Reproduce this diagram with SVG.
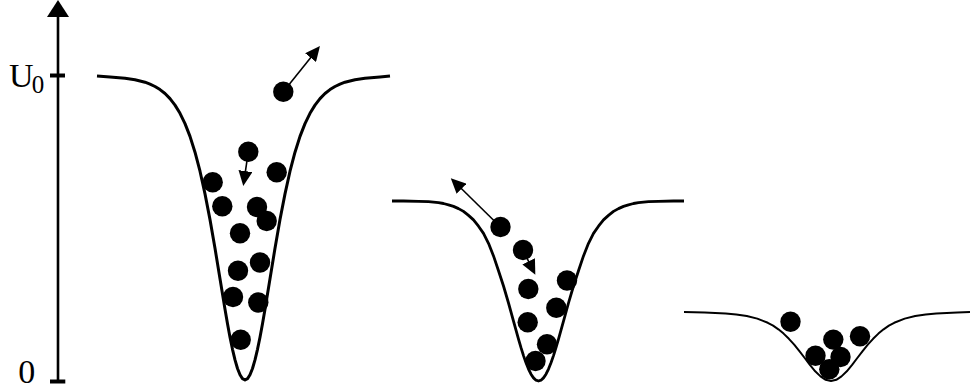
<svg xmlns="http://www.w3.org/2000/svg" width="971" height="391" viewBox="0 0 971 391">
<style>
.well{fill:none;stroke:#000;stroke-linejoin:round;stroke-linecap:butt}
.atom{fill:#000}
.lbl{font-family:"Liberation Serif","Times New Roman",serif;fill:#000}
.arr{stroke:#000;stroke-width:1.6;fill:none}
</style>
<defs>
<marker id="ah" viewBox="0 0 15 14" refX="1" refY="7" markerWidth="15" markerHeight="14" markerUnits="userSpaceOnUse" orient="auto">
<path d="M0,0 L15,7 L0,14 z" fill="#000"/>
</marker>
</defs>
<g id="axis">
<line x1="58" y1="16" x2="58" y2="381.5" stroke="#000" stroke-width="2.6"/>
<path d="M58,0 L69,17 L47,17 z" fill="#000"/>
<line x1="50" y1="75.5" x2="65" y2="75.5" stroke="#000" stroke-width="4"/>
<line x1="50" y1="381.5" x2="65.3" y2="381.5" stroke="#000" stroke-width="4"/>
<text class="lbl" x="9" y="86.5" font-size="34">U</text>
<text class="lbl" x="31.7" y="93" font-size="25">0</text>
<text class="lbl" x="18.2" y="382.8" font-size="34">0</text>
</g>
<g id="well1">
<path class="well" stroke-width="3" d="M97,76 L110,77.0 L125,78.2 L135,79.7 L145,82.2 L150,84.1 L155,86.5 L160,89.6 L165,93.5 L170,98.6 L175,105.1 L180,113.3 L185,123.6 L190,136.4 L195,152.2 L200,171.2 L205,193.9 L210,219.6 L215,248.3 L220,278.8 L225,309.2 L227.5,323.7 L230,337.2 L232.5,349.3 L235,359.9 L237.5,368.5 L240,374.8 L242.5,378.7 L245,380 L247.5,378.7 L250,374.8 L252.5,368.5 L255,359.9 L257.5,349.3 L260,337.2 L262.5,323.7 L265,309.2 L270,278.8 L275,248.3 L280,219.6 L285,193.9 L290,171.2 L295,152.2 L300,136.4 L305,123.6 L310,113.3 L315,105.1 L320,98.6 L325,93.5 L330,89.6 L335,86.5 L340,84.1 L345,82.2 L355,79.7 L365,78.2 L380,77.0 L390,76"/>
<circle class="atom" cx="283.3" cy="91.7" r="10.2"/>
<circle class="atom" cx="248.3" cy="151.7" r="10.2"/>
<circle class="atom" cx="276.7" cy="172.3" r="10.2"/>
<circle class="atom" cx="212.7" cy="182.3" r="10.2"/>
<circle class="atom" cx="222.3" cy="206.3" r="10.2"/>
<circle class="atom" cx="257" cy="207" r="10.2"/>
<circle class="atom" cx="266.7" cy="221" r="10.2"/>
<circle class="atom" cx="240" cy="233.3" r="10.2"/>
<circle class="atom" cx="260" cy="262.5" r="10.2"/>
<circle class="atom" cx="238" cy="270.7" r="10.2"/>
<circle class="atom" cx="233" cy="297" r="10.2"/>
<circle class="atom" cx="258.3" cy="302.5" r="10.2"/>
<circle class="atom" cx="240.7" cy="339.7" r="10.2"/>
</g>
<g id="well2">
<path class="well" stroke-width="2.8" d="M392,201 L403.5,201 L418.5,201.3 L428.5,201.7 L438.5,202.6 L443.5,203.5 L448.5,204.8 L453.5,206.4 L458.5,208.6 L463.5,211.4 L468.5,215.4 L473.5,219.9 L478.5,226.2 L483.5,233.4 L488.5,243.3 L493.5,255.9 L498.5,270.8 L503.5,286.0 L508.5,303.0 L513.5,321.1 L518.5,339.1 L521,347.7 L523.5,355.6 L526,362.8 L528.5,369.1 L531,374.2 L533.5,377.9 L536,380.2 L538.5,381 L541,380.2 L543.5,377.9 L546,374.2 L548.5,369.1 L551,362.8 L553.5,355.6 L556,347.7 L558.5,339.1 L563.5,321.1 L568.5,303.0 L573.5,286.0 L578.5,270.8 L583.5,255.9 L588.5,243.3 L593.5,233.4 L598.5,226.2 L603.5,219.9 L608.5,215.4 L613.5,211.4 L618.5,208.6 L623.5,206.4 L628.5,204.8 L633.5,203.5 L638.5,202.6 L648.5,201.7 L658.5,201.3 L673.5,201 L684,201"/>
<circle class="atom" cx="500.5" cy="227" r="10.2"/>
<circle class="atom" cx="523" cy="250" r="10.2"/>
<circle class="atom" cx="567" cy="280.5" r="10.2"/>
<circle class="atom" cx="528.3" cy="289" r="10.2"/>
<circle class="atom" cx="556.3" cy="307.7" r="10.2"/>
<circle class="atom" cx="527.7" cy="322.3" r="10.2"/>
<circle class="atom" cx="547" cy="344.2" r="10.2"/>
<circle class="atom" cx="535.5" cy="361" r="10.2"/>
</g>
<g id="well3">
<path class="well" stroke-width="2" d="M684,312 L704.7,312.5 L725.7,313.4 L736.3,314.4 L746.8,316.0 L757.3,318.6 L767.8,322.8 L773.1,325.7 L778.4,329.3 L783.6,333.6 L788.9,338.8 L794.2,344.6 L799.4,351.1 L804.7,358.0 L809.9,364.9 L815.2,371.3 L820.5,376.4 L825.7,379.8 L831,381 L836.3,379.8 L841.5,376.4 L846.8,371.3 L852.1,364.9 L857.3,358.0 L862.6,351.1 L867.8,344.6 L873.1,338.8 L878.4,333.6 L883.6,329.3 L888.9,325.7 L894.2,322.8 L904.7,318.6 L915.2,316.0 L925.7,314.4 L936.3,313.4 L957.3,312.5 L970,312"/>
<circle class="atom" cx="790.5" cy="321.7" r="10.2"/>
<circle class="atom" cx="833.3" cy="339.6" r="10.2"/>
<circle class="atom" cx="860" cy="336.3" r="10.2"/>
<circle class="atom" cx="815.5" cy="355.8" r="10.2"/>
<circle class="atom" cx="840.5" cy="357" r="10.2"/>
<circle class="atom" cx="829.3" cy="369.3" r="10.2"/>
</g>
<g id="connectors">
<line class="arr" x1="283.3" y1="91.7" x2="311.2" y2="56.9" marker-end="url(#ah)"/>
<line class="arr" x1="248.3" y1="151.7" x2="245.3" y2="172.1" marker-end="url(#ah)"/>
<line class="arr" x1="500.5" y1="227" x2="460.8" y2="188" marker-end="url(#ah)"/>
<line class="arr" x1="523" y1="250" x2="529.1" y2="262.3" marker-end="url(#ah)"/>
</g>
</svg>
